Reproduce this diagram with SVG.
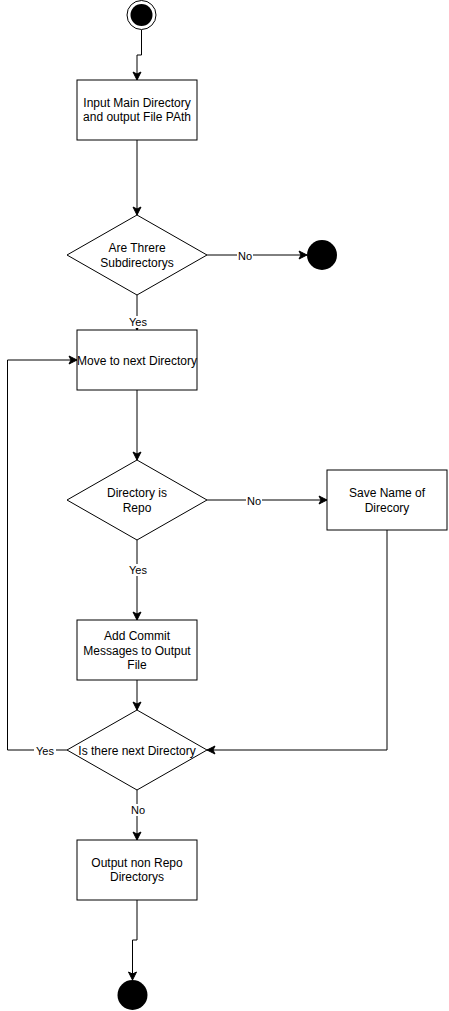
<svg xmlns="http://www.w3.org/2000/svg" width="449" height="1011" viewBox="0 0 449 1011">
<defs>
<marker id="arr" markerUnits="userSpaceOnUse" markerWidth="12" markerHeight="12" viewBox="-10 -6 12 12" refX="0" refY="0" orient="auto">
<path d="M0,0 L-8,-4 L-6,0 L-8,4 Z" fill="#000" stroke="#000" stroke-width="1"/>
</marker>
</defs>
<style>
.box{fill:#fff;stroke:#000;stroke-width:1}
.t{font-family:"Liberation Sans",Arial,Helvetica,sans-serif;font-size:12px;fill:#000;text-anchor:middle;dominant-baseline:central}
.lb{font-family:"Liberation Sans",Arial,Helvetica,sans-serif;font-size:11px;fill:#000;text-anchor:middle;dominant-baseline:central}
.e{fill:none;stroke:#000;stroke-width:1}
.bg{fill:#fff}
</style>
<rect width="449" height="1011" fill="#fff"/>
<g id="edges">
<path class="e" d="M141.5,30 V55 H137 V80" marker-end="url(#arr)"/>
<path class="e" d="M137,140 V215" marker-end="url(#arr)"/>
<path class="e" d="M207,255 H307" marker-end="url(#arr)"/>
<path class="e" d="M137,295 V330" marker-end="url(#arr)"/>
<path class="e" d="M137,390 V460" marker-end="url(#arr)"/>
<path class="e" d="M207,500 H327" marker-end="url(#arr)"/>
<path class="e" d="M137,540 V620" marker-end="url(#arr)"/>
<path class="e" d="M137,680 V710" marker-end="url(#arr)"/>
<path class="e" d="M387,530 V750 H207" marker-end="url(#arr)"/>
<path class="e" d="M67,750 H7.5 V360 H77" marker-end="url(#arr)"/>
<path class="e" d="M137,790 V840" marker-end="url(#arr)"/>
<path class="e" d="M137,900 V940 H132.5 V980" marker-end="url(#arr)"/>
<rect class="bg" x="237" y="249" width="16" height="12"/>
<text class="lb" x="245" y="256">No</text>
<rect class="bg" x="127" y="316" width="22" height="12"/>
<text class="lb" x="138" y="322">Yes</text>
<rect class="bg" x="246" y="494" width="16" height="12"/>
<text class="lb" x="254" y="501">No</text>
<rect class="bg" x="127" y="564" width="22" height="12"/>
<text class="lb" x="138" y="570">Yes</text>
<rect class="bg" x="34" y="744" width="22" height="12"/>
<text class="lb" x="45" y="751">Yes</text>
<rect class="bg" x="130" y="804" width="16" height="12"/>
<text class="lb" x="138" y="810">No</text>
</g>
<g id="start">
<circle cx="141.5" cy="15" r="14.5" fill="#fff" stroke="#000" stroke-width="1"/>
<circle cx="141.5" cy="15" r="11" fill="#000"/>
</g>
<g id="input">
<rect class="box" x="77" y="80" width="120" height="60"/>
<text class="t" x="137" y="103">Input Main Directory</text>
<text class="t" x="137" y="117">and output File PAth</text>
</g>
<g id="dec1">
<polygon class="box" points="137,215 207,255 137,295 67,255"/>
<text class="t" x="137" y="248">Are Threre</text>
<text class="t" x="137" y="263">Subdirectorys</text>
</g>
<g id="end1">
<circle cx="322" cy="255" r="15" fill="#000"/>
</g>
<g id="move">
<rect class="box" x="77" y="330" width="120" height="60"/>
<text class="t" x="137" y="361">Move to next Directory</text>
</g>
<g id="dec2">
<polygon class="box" points="137,460 207,500 137,540 67,500"/>
<text class="t" x="137" y="493">Directory is</text>
<text class="t" x="137" y="508">Repo</text>
</g>
<g id="save">
<rect class="box" x="327" y="470" width="120" height="60"/>
<text class="t" x="387" y="493">Save Name of</text>
<text class="t" x="387" y="508">Direcory</text>
</g>
<g id="add">
<rect class="box" x="77" y="620" width="120" height="60"/>
<text class="t" x="137" y="636">Add Commit</text>
<text class="t" x="137" y="651">Messages to Output</text>
<text class="t" x="137" y="665">File</text>
</g>
<g id="dec3">
<polygon class="box" points="137,710 207,750 137,790 67,750"/>
<text class="t" x="137" y="751">Is there next Directory</text>
</g>
<g id="output">
<rect class="box" x="77" y="840" width="120" height="60"/>
<text class="t" x="137" y="863">Output non Repo</text>
<text class="t" x="137" y="877">Directorys</text>
</g>
<g id="end2">
<circle cx="132.5" cy="995" r="15" fill="#000"/>
</g>
</svg>
